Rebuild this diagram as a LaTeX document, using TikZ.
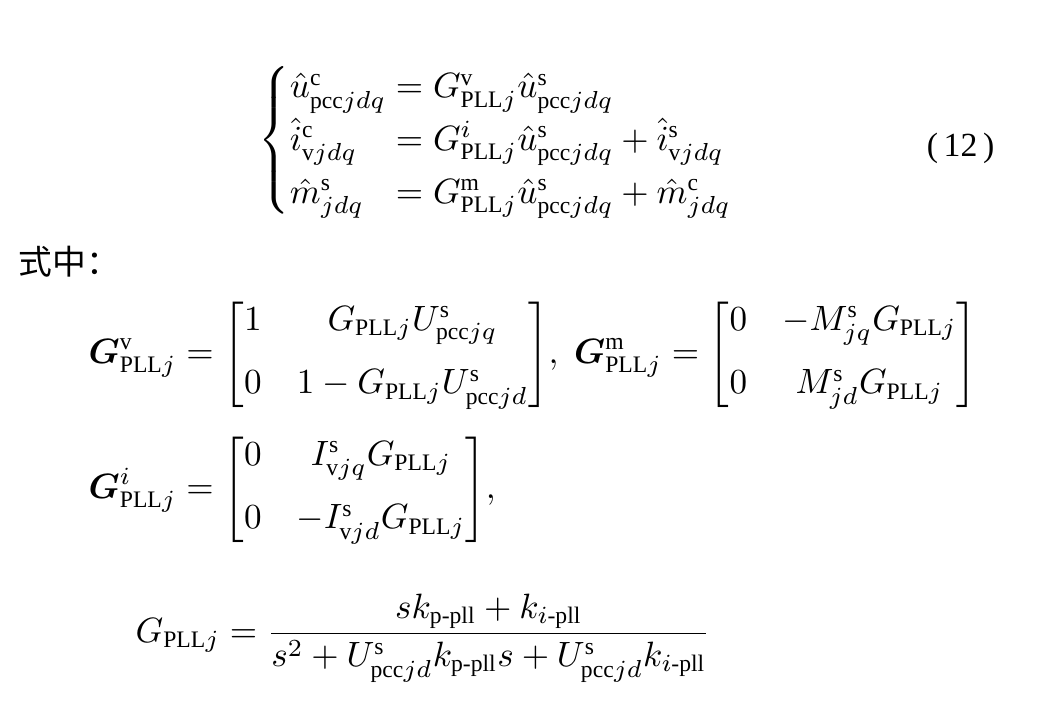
\documentclass[tikz,border=0pt]{standalone}
\usepackage{amsmath,bm}
\usepackage{fontspec}
\setmainfont{Liberation Serif}
\newfontfamily\cjk{Noto Sans CJK SC}
\begin{document}
\begin{tikzpicture}[x=0.01cm,y=-0.01cm,
  eq/.style={inner sep=0pt,font=\fontsize{9.6}{12}\selectfont}]
\useasboundingbox (0,0) rectangle (1037,726);
\node[eq,anchor=west] (sys) at (258,140) {$\displaystyle\left\{\renewcommand{\arraystretch}{1.25}\begin{array}{@{}l@{\;}l}
\hat u^{\mathrm c}_{\mathrm{pcc}jdq} &= G^{\mathrm v}_{\mathrm{PLL}j}\hat u^{\mathrm s}_{\mathrm{pcc}jdq}\\
\hat i^{\mathrm c}_{\mathrm v jdq} &= G^{i}_{\mathrm{PLL}j}\hat u^{\mathrm s}_{\mathrm{pcc}jdq}+\hat i^{\mathrm s}_{\mathrm v jdq}\\
\hat m^{\mathrm s}_{jdq} &= G^{\mathrm m}_{\mathrm{PLL}j}\hat u^{\mathrm s}_{\mathrm{pcc}jdq}+\hat m^{\mathrm c}_{jdq}
\end{array}\right.$};
\node[eq,anchor=east] (num) at (995,148) {(\,12\,)};
\node[eq,anchor=west] (sz) at (18,262) {\cjk 式中：};
\node[eq,anchor=west] (gv) at (88,355) {$\displaystyle\bm G^{\mathrm v}_{\mathrm{PLL}j}=\begin{bmatrix}1 & G_{\mathrm{PLL}j}U^{\mathrm s}_{\mathrm{pcc}jq}\\[6pt] 0 & 1-G_{\mathrm{PLL}j}U^{\mathrm s}_{\mathrm{pcc}jd}\end{bmatrix}\!,\;
\bm G^{\mathrm m}_{\mathrm{PLL}j}=\begin{bmatrix}0 & -M^{\mathrm s}_{jq}G_{\mathrm{PLL}j}\\[6pt] 0 & M^{\mathrm s}_{jd}G_{\mathrm{PLL}j}\end{bmatrix}$};
\node[eq,anchor=west] (gi) at (88,490) {$\displaystyle\bm G^{i}_{\mathrm{PLL}j}=\begin{bmatrix}0 & I^{\mathrm s}_{\mathrm v jq}G_{\mathrm{PLL}j}\\[6pt] 0 & -I^{\mathrm s}_{\mathrm v jd}G_{\mathrm{PLL}j}\end{bmatrix}\!,$};
\node[eq,anchor=west] (gp) at (135,638) {$\displaystyle G_{\mathrm{PLL}j}=\frac{sk_{\mathrm{p\text{-}pll}}+k_{i\text{-}\mathrm{pll}}}{s^2+U^{\mathrm s}_{\mathrm{pcc}jd}k_{\mathrm{p\text{-}pll}}s+U^{\mathrm s}_{\mathrm{pcc}jd}k_{i\text{-}\mathrm{pll}}}$};
\end{tikzpicture}
\end{document}
